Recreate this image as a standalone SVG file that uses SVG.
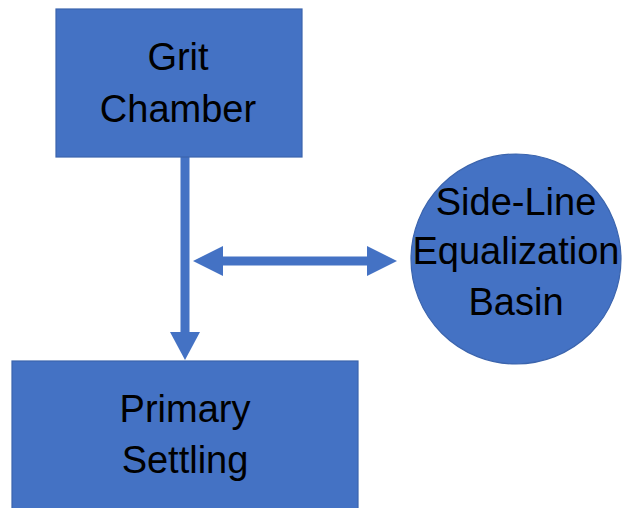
<svg xmlns="http://www.w3.org/2000/svg" width="628" height="508" viewBox="0 0 628 508">
<style>
.node{fill:#4472C4;stroke:#3B64AD;stroke-width:1.2}
.lbl{font-family:"Liberation Sans",Arial,sans-serif;font-size:38px;fill:#000;text-anchor:middle}
.conn{stroke:#4472C4;stroke-width:9;fill:none}
.head{fill:#4472C4}
</style>
<rect width="628" height="508" fill="#fff"/>
<g id="connectors">
<line class="conn" x1="185" y1="157" x2="185" y2="334"/>
<polygon class="head" points="170,332 200,332 185,360"/>
<line class="conn" x1="220" y1="261" x2="370" y2="261"/>
<polygon class="head" points="193,261 223,246 223,276"/>
<polygon class="head" points="397,261 367,246 367,276"/>
</g>
<g id="grit-chamber">
<rect class="node" x="56" y="9" width="246" height="148"/>
<text class="lbl" x="178" y="70">Grit</text>
<text class="lbl" x="178" y="122">Chamber</text>
</g>
<g id="equalization-basin">
<circle class="node" cx="516" cy="259" r="105"/>
<text class="lbl" x="516" y="215">Side-Line</text>
<text class="lbl" x="516" y="264">Equalization</text>
<text class="lbl" x="516" y="315">Basin</text>
</g>
<g id="primary-settling">
<rect class="node" x="12" y="361" width="346" height="160"/>
<text class="lbl" x="185" y="422">Primary</text>
<text class="lbl" x="185" y="473">Settling</text>
</g>
</svg>
